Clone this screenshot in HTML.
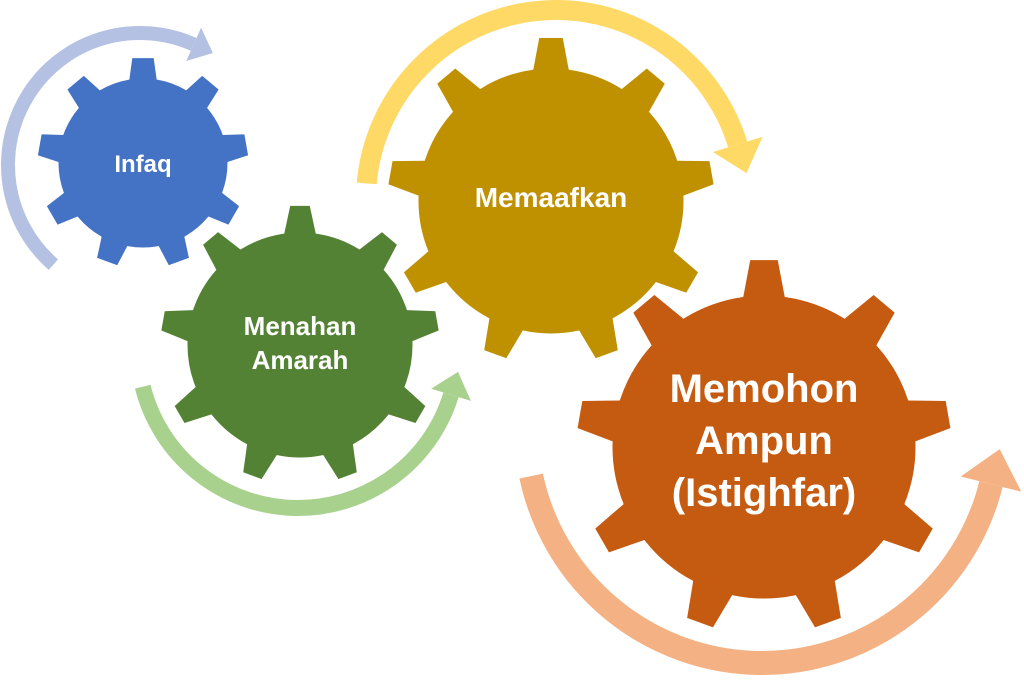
<!DOCTYPE html>
<html><head><meta charset="utf-8"><style>
html,body{margin:0;padding:0;background:#fff;width:1024px;height:694px;overflow:hidden}
svg{display:block}
text{font-family:"Liberation Sans",sans-serif;font-weight:bold;fill:#fff;text-anchor:middle}
</style></head><body>
<svg id="s" width="1024" height="694" viewBox="0 0 1024 694" xmlns="http://www.w3.org/2000/svg">
<g id="arcs"></g><g id="gears"></g>
<text x="143" y="172" font-size="24">Infaq</text>
<text x="300" y="335" font-size="26">Menahan</text>
<text x="300" y="369" font-size="26">Amarah</text>
<text x="551" y="207" font-size="28">Memaafkan</text>
<text x="764" y="402" font-size="40">Memohon</text>
<text x="764" y="454" font-size="40">Ampun</text>
<text x="764" y="506" font-size="40">(Istighfar)</text>
</svg>
<script>
var NS="http://www.w3.org/2000/svg";
function rad(d){return d*Math.PI/180}
function arc(cx,cy,r,a0,a1,w,col){
  var g=document.getElementById('arcs');
  var p=document.createElementNS(NS,'path');
  var x0=cx+r*Math.cos(rad(a0)),y0=cy+r*Math.sin(rad(a0));
  var x1=cx+r*Math.cos(rad(a1)),y1=cy+r*Math.sin(rad(a1));
  var large=Math.abs(a1-a0)>180?1:0, sweep=a1>a0?1:0;
  p.setAttribute('d','M'+x0+' '+y0+' A'+r+' '+r+' 0 '+large+' '+sweep+' '+x1+' '+y1);
  p.setAttribute('fill','none');p.setAttribute('stroke',col);p.setAttribute('stroke-width',w);
  g.appendChild(p);
  var s=sweep?1:-1;
  var tx=-Math.sin(rad(a1))*s, ty=Math.cos(rad(a1))*s;
  var nx=Math.cos(rad(a1)), ny=Math.sin(rad(a1));
  var hw=w*1.3, L=w*1.5;
  var pts=[[x1+nx*hw,y1+ny*hw],[x1-nx*hw,y1-ny*hw],[x1+tx*L,y1+ty*L]];
  var t=document.createElementNS(NS,'polygon');
  t.setAttribute('points',pts.map(function(q){return q[0]+','+q[1]}).join(' '));
  t.setAttribute('fill',col);g.appendChild(t);
}
function gear(cx,cy,r,R,b,t,col){
  var d='';
  for(var i=0;i<9;i++){
    var th=rad(-90+40*i);
    var db=Math.asin(b/r);
    var dx=Math.cos(th),dy=Math.sin(th),px=-dy,py=dx;
    var a=th-db, c=th+db;
    var pA=[cx+r*Math.cos(a),cy+r*Math.sin(a)];
    var pC=[cx+r*Math.cos(c),cy+r*Math.sin(c)];
    var Rt=Math.sqrt(R*R-t*t);
    var tA=[cx+dx*Rt-px*t,cy+dy*Rt-py*t];
    var tC=[cx+dx*Rt+px*t,cy+dy*Rt+py*t];
    if(i==0)d+='M'+pA[0]+' '+pA[1];
    else d+=' A'+r+' '+r+' 0 0 1 '+pA[0]+' '+pA[1];
    d+=' L'+tA[0]+' '+tA[1]+' L'+tC[0]+' '+tC[1]+' L'+pC[0]+' '+pC[1];
  }
  var th0=rad(-90)-Math.asin(b/r);
  d+=' A'+r+' '+r+' 0 0 1 '+(cx+r*Math.cos(th0))+' '+(cy+r*Math.sin(th0))+'Z';
  var p=document.createElementNS(NS,'path');
  p.setAttribute('d',d);p.setAttribute('fill',col);p.setAttribute('stroke','#fff');p.setAttribute('stroke-width','3');
  document.getElementById('gears').appendChild(p);
}
arc(140,165,132,131,294,14,'#B4C1E2');
arc(298,348,160,166,17,16,'#A9D18E');
arc(556,200,190,185,343,20,'#FFD966');
arc(762,427,236,168,14,24,'#F4B183');
gear(143,163,86,107,15,12,'#4472C4');
gear(551,201,134,165,19,13,'#BF9000');
gear(300,345,114,141,17,11,'#548235');
gear(764,447,153,189,22,15,'#C55A11');
</script>
</body></html>
